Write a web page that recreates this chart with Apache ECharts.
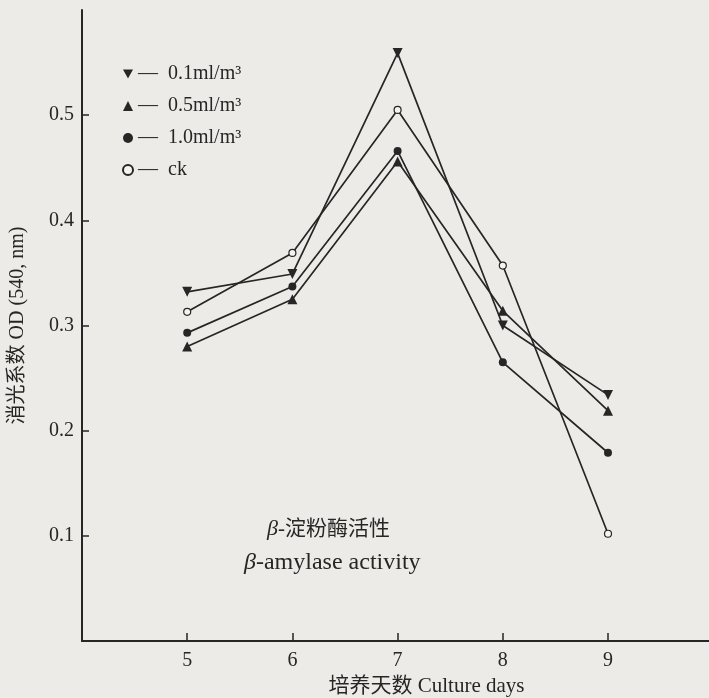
<!DOCTYPE html>
<html>
<head>
<meta charset="utf-8">
<title>β-淀粉酶活性</title>
<script src="https://cdn.jsdelivr.net/npm/echarts@6/dist/echarts.min.js"></script>
<style>
    html, body { margin: 0; padding: 0; background: #ecebe8; }
    #chart { width: 709px; height: 698px; }
</style>
</head>
<body>
<div id="chart"></div>
<script>
    // 培养天数
    var days = [5, 6, 7, 8, 9];
    var seriesNames = ['0.1ml/m³', '0.5ml/m³', '1.0ml/m³', 'ck'];
    // OD (540 nm)
    var od01 = [0.332, 0.349, 0.559, 0.300, 0.234];
    var od05 = [0.280, 0.325, 0.456, 0.314, 0.219];
    var od10 = [0.293, 0.337, 0.466, 0.265, 0.179];
    var odCk = [0.313, 0.369, 0.505, 0.357, 0.102];
    var yTicks = [0.1, 0.2, 0.3, 0.4, 0.5];

    var ink = '#262626';
    var serif = '"Liberation Serif", "DejaVu Serif", "Noto Sans CJK SC", serif';
    var downTriangle = 'path://M0,0L10,0L5,9Z';

    function pairs(values) {
        return days.map(function (d, i) {
            return [d, values[i]];
        });
    }

    function line(name, values, symbol, size, hollow) {
        return {
            name: name,
            type: 'line',
            data: pairs(values),
            symbol: symbol,
            symbolSize: size,
            lineStyle: {color: ink, width: 1.7},
            itemStyle: {
                color: hollow ? '#f4f4f2' : ink,
                borderColor: ink,
                borderWidth: hollow ? 1.2 : 0
            },
            emphasis: {disabled: true},
            z: hollow ? 3 : 2
        };
    }

    var myChart = echarts.init(document.getElementById('chart'));
    var option = {
        backgroundColor: '#ecebe8',
        animation: false,
        grid: {left: 82, right: 0, top: 10, bottom: 57, outerBoundsMode: 'none'},
        legend: {
            orient: 'vertical',
            left: 117,
            top: 59,
            itemWidth: 10,
            itemHeight: 10,
            itemGap: 12,
            selectedMode: false,
            data: [
                {name: seriesNames[0], icon: downTriangle},
                {name: seriesNames[1], icon: 'triangle'},
                {name: seriesNames[2], icon: 'circle'},
                {name: seriesNames[3], icon: 'circle'}
            ],
            formatter: function (name) {
                return '—  ' + name;
            },
            textStyle: {fontFamily: serif, fontSize: 20, color: ink}
        },
        xAxis: {
            type: 'value',
            min: 4,
            max: 9.96,
            interval: 1,
            name: '培养天数 Culture days',
            nameLocation: 'middle',
            nameGap: 34,
            nameTextStyle: {
                fontFamily: serif,
                fontSize: 21,
                color: ink,
                padding: [0, 0, 0, 62]
            },
            axisLine: {lineStyle: {color: ink, width: 2}},
            axisTick: {inside: true, length: 8, customValues: days, lineStyle: {color: ink, width: 1.5}},
            axisLabel: {customValues: days, margin: 10, fontFamily: serif, fontSize: 20, color: ink},
            splitLine: {show: false}
        },
        yAxis: {
            type: 'value',
            min: 0,
            max: 0.6,
            interval: 0.1,
            name: '消光系数 OD (540, nm)',
            nameLocation: 'middle',
            nameGap: 54,
            nameTextStyle: {fontFamily: serif, fontSize: 20, color: ink},
            axisLine: {lineStyle: {color: ink, width: 2}},
            axisTick: {inside: true, length: 7, customValues: yTicks, lineStyle: {color: ink, width: 1.5}},
            axisLabel: {
                customValues: yTicks,
                margin: 8,
                fontFamily: serif,
                fontSize: 20,
                color: ink,
                formatter: function (v) {
                    return v.toFixed(1);
                }
            },
            splitLine: {show: false}
        },
        graphic: [
            {
                type: 'text',
                left: 267,
                top: 518,
                style: {
                    text: '{b|β}-淀粉酶活性',
                    fontFamily: serif,
                    fontSize: 21,
                    fill: ink,
                    rich: {b: {fontStyle: 'italic', fontFamily: serif, fontSize: 22, fill: ink}}
                }
            },
            {
                type: 'text',
                left: 244,
                top: 551,
                style: {
                    text: '{b|β}-amylase activity',
                    fontFamily: serif,
                    fontSize: 24,
                    fill: ink,
                    rich: {b: {fontStyle: 'italic', fontFamily: serif, fontSize: 24, fill: ink}}
                }
            }
        ],
        series: [
            line(seriesNames[0], od01, downTriangle, 10, false),
            line(seriesNames[1], od05, 'triangle', 10, false),
            line(seriesNames[2], od10, 'circle', 8, false),
            line(seriesNames[3], odCk, 'circle', 7, true)
        ]
    };
    myChart.setOption(option);
</script>
</body>
</html>
